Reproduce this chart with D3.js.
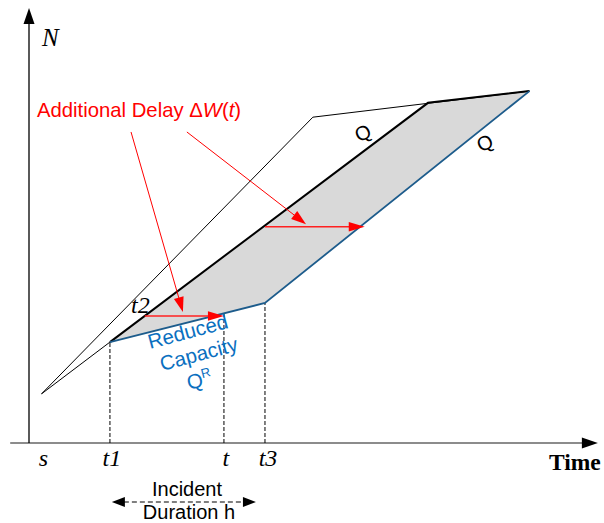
<!DOCTYPE html>
<html><head><meta charset="utf-8">
<script src="https://cdn.jsdelivr.net/npm/d3@7"></script>
<style>body{margin:0;background:#fff}svg{display:block}</style>
</head><body>
<svg id="chart" width="604" height="523"></svg>
<script>
// ---- data (abstract units: time 0-100, cumulative vehicles N 0-100) ----
const tickLabels = ["s", "t1", "t", "t3"];
const tickTimes = [2.2, 14.2, 34.2, 41.4];
const tickCurveN = [11.3, 23.2, 29.9, 32.2];           // where dashed guides meet the curves
const arrivalCurve = [[2.2, 11.3], [49.8, 74.9], [87.8, 80.9]];     // thin upper curve
const preIncident = [[2.2, 11.3], [14.2, 23.2]];                     // thin start of departures
const capacityCurve = [[14.2, 23.2], [70.0, 78.2], [87.8, 80.9]];    // Q (thick)
const reducedCurve = [[14.2, 23.2], [41.4, 32.2], [87.8, 80.9]];     // Q^R then Q (blue)
const delayArrows = [[[20.3, 29.2], [34.2, 29.2]], [[41.4, 49.7], [58.9, 49.7]]];
const pointerLines = [[[17.9, 71.5], [27.0, 30.1]], [[27.7, 71.5], [48.6, 50.3]]];
const durationSpan = [14.8, 40.6];

const svg = d3.select("#chart");
const x = d3.scaleLinear().domain([0, 100]).range([29, 599]);
const y = d3.scaleLinear().domain([0, 100]).range([443, 8]);
const line = d3.line().x(d => x(d[0])).y(d => y(d[1]));

function head(p1, p2, len, hw, fill) {
  // triangle with tip at p2 (pixel coords)
  const dx = p2[0] - p1[0], dy = p2[1] - p1[1];
  const d = Math.hypot(dx, dy), ux = dx / d, uy = dy / d;
  const bx = p2[0] - ux * len, by = p2[1] - uy * len;
  const pts = [[p2[0], p2[1]], [bx - uy * hw, by + ux * hw], [bx + uy * hw, by - ux * hw]];
  svg.append("path").attr("d", "M" + pts.map(p => p.join(",")).join("L") + "Z").attr("fill", fill);
}

// shaded delay area
const area = [capacityCurve[0], capacityCurve[1], capacityCurve[2], reducedCurve[1]];
svg.append("path").attr("d", line(area) + "Z").attr("fill", "#d9d9d9");

// axes
svg.append("line").attr("x1", x(-3.3)).attr("x2", x(99.8) - 12).attr("y1", y(0)).attr("y2", y(0))
  .attr("stroke", "#666").attr("stroke-width", 1.5);
head([x(0), y(0)], [x(99.8), y(0)], 16, 5.5, "#000");
svg.append("line").attr("x1", x(0)).attr("x2", x(0)).attr("y1", y(0)).attr("y2", y(100) + 12)
  .attr("stroke", "#000").attr("stroke-width", 1.3);
head([x(0), y(0)], [x(0), y(100)], 16, 5.5, "#000");

// dashed guides
tickTimes.slice(1).forEach((t, i) => {
  svg.append("line").attr("x1", x(t)).attr("x2", x(t)).attr("y1", y(0)).attr("y2", y(tickCurveN[i + 1]))
    .attr("stroke", "#000").attr("stroke-width", 1).attr("stroke-dasharray", "4,2");
});

// curves
svg.append("path").attr("d", line(arrivalCurve)).attr("fill", "none").attr("stroke", "#000").attr("stroke-width", 1);
svg.append("path").attr("d", line(preIncident)).attr("fill", "none").attr("stroke", "#000").attr("stroke-width", 1);
svg.append("path").attr("d", line(capacityCurve)).attr("fill", "none").attr("stroke", "#000").attr("stroke-width", 2);
svg.append("path").attr("d", line(reducedCurve)).attr("fill", "none").attr("stroke", "#1d5c8c").attr("stroke-width", 1.8);

// red pointers
pointerLines.forEach(([a, b]) => {
  const p1 = [x(a[0]), y(a[1])], p2 = [x(b[0]), y(b[1])];
  const d = Math.hypot(p2[0] - p1[0], p2[1] - p1[1]);
  const e = [p2[0] - (p2[0] - p1[0]) / d * 12, p2[1] - (p2[1] - p1[1]) / d * 12];
  svg.append("line").attr("x1", p1[0]).attr("y1", p1[1]).attr("x2", e[0]).attr("y2", e[1])
    .attr("stroke", "#ff0000").attr("stroke-width", 1);
  head(p1, p2, 15, 5, "#ff0000");
});
delayArrows.forEach(([a, b]) => {
  const p1 = [x(a[0]), y(a[1])], p2 = [x(b[0]), y(b[1])];
  svg.append("line").attr("x1", p1[0]).attr("y1", p1[1]).attr("x2", p2[0] - 12).attr("y2", p2[1])
    .attr("stroke", "#ff2020").attr("stroke-width", 1.6);
  head(p1, p2, 16, 4.8, "#ff0000");
});

// texts
const serif = "'Liberation Serif','Times New Roman',serif";
const sans = "'Liberation Sans',Arial,sans-serif";
svg.append("text").attr("x", 42).attr("y", 46).text("N")
  .attr("font-family", serif).attr("font-style", "italic").attr("font-size", 25);
svg.append("text").attr("x", 549).attr("y", 470).text("Time")
  .attr("font-family", serif).attr("font-weight", "bold").attr("font-size", 23.5);
tickLabels.forEach((s, i) => {
  svg.append("text").attr("x", x(tickTimes[i]) + (i === 3 ? 3 : 2)).attr("y", 466).attr("text-anchor", "middle")
    .attr("font-family", serif).attr("font-style", "italic").attr("font-size", 24).text(s);
});
svg.append("text").attr("x", 131).attr("y", 313).text("t2")
  .attr("font-family", serif).attr("font-style", "italic").attr("font-size", 24);

const add = svg.append("text").attr("x", 37).attr("y", 117).attr("font-family", sans)
  .attr("font-size", 20.3).attr("fill", "#ff0000");
add.append("tspan").text("Additional Delay Δ");
add.append("tspan").attr("font-style", "italic").text("W");
add.append("tspan").text("(");
add.append("tspan").attr("font-style", "italic").text("t");
add.append("tspan").text(")");

// Q labels
[[366, 139], [488, 149]].forEach(p => {
  svg.append("text").attr("transform", `translate(${p[0]},${p[1]}) rotate(-28)`).attr("text-anchor", "middle")
    .attr("font-family", sans).attr("font-size", 20).text("Q");
});

// reduced capacity labels
const blue = "#0a6fbf";
svg.append("text").attr("transform", "translate(150,349) rotate(-15)").attr("font-family", sans)
  .attr("font-size", 20.5).attr("fill", blue).text("Reduced");
svg.append("text").attr("transform", "translate(162,371) rotate(-15)").attr("font-family", sans)
  .attr("font-size", 20.5).attr("fill", blue).text("Capacity");
const qr = svg.append("text").attr("transform", "translate(189,390) rotate(-15)").attr("font-family", sans)
  .attr("font-size", 20.5).attr("fill", blue);
qr.append("tspan").text("Q");
qr.append("tspan").attr("font-size", 13).attr("dy", -8).text("R");

// incident duration
svg.append("text").attr("x", 187).attr("y", 496).attr("text-anchor", "middle")
  .attr("font-family", sans).attr("font-size", 20).text("Incident");
svg.append("text").attr("x", 189).attr("y", 519).attr("text-anchor", "middle")
  .attr("font-family", sans).attr("font-size", 20).text("Duration h");
const dy = 502;
const dl = x(durationSpan[0]) - 1.5, dr = x(durationSpan[1]) - 4.5;
svg.append("line").attr("x1", dl + 12).attr("x2", dr - 12).attr("y1", dy).attr("y2", dy)
  .attr("stroke", "#555").attr("stroke-width", 1.3).attr("stroke-dasharray", "5,3");
head([dr, dy], [dl, dy], 13, 5, "#000");
head([dl, dy], [dr, dy], 13, 5, "#000");
</script>
</body></html>
